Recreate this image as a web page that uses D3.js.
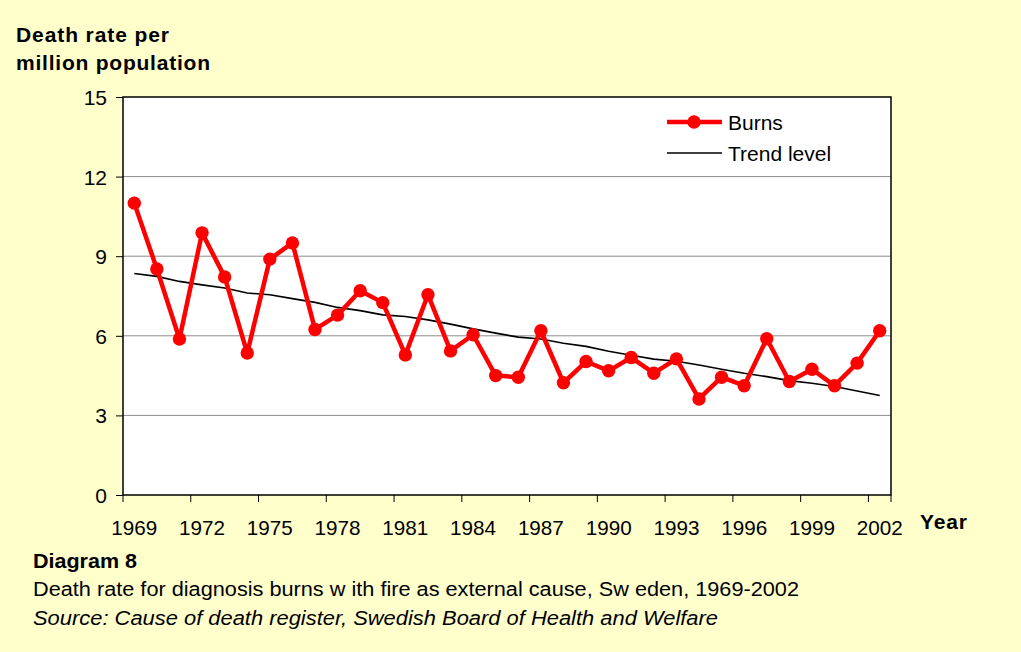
<!DOCTYPE html>
<html>
<head>
<meta charset="utf-8">
<title>Death rate for burns, Sweden 1969-2002</title>
<style>
  body { margin: 0; background: #FFFFCC; }
  text { font-family: "Liberation Sans", Arial, sans-serif; fill: #000; }
</style>
</head>
<body>
<script src="https://cdn.jsdelivr.net/npm/d3@7"></script>
<script>
// data
var years = d3.range(1969, 2003);
var burns = [11.0, 8.52, 5.88, 9.88, 8.22, 5.35, 8.89, 9.5, 6.24, 6.78,
             7.7, 7.25, 5.28, 7.55, 5.43, 6.04, 4.5, 4.44, 6.19, 4.23,
             5.03, 4.68, 5.18, 4.59, 5.13, 3.62, 4.44, 4.12, 5.89, 4.28,
             4.74, 4.12, 4.97, 6.19];
var trend = [8.35, 8.24, 8.05, 7.92, 7.8, 7.61, 7.55, 7.4, 7.26, 7.07,
             6.95, 6.79, 6.73, 6.6, 6.44, 6.26, 6.1, 5.95, 5.88, 5.72,
             5.6, 5.42, 5.27, 5.12, 5.04, 4.9, 4.74, 4.59, 4.46, 4.31,
             4.21, 4.09, 3.92, 3.75];
var yTicks = [0, 3, 6, 9, 12, 15];
var xLabelYears = [1969, 1972, 1975, 1978, 1981, 1984, 1987, 1990, 1993, 1996, 1999, 2002];

var w = 1021, h = 652;
var margin = {top: 97, right: 130, bottom: 157, left: 123};

var svg = d3.select("body").append("svg")
  .attr("width", w)
  .attr("height", h);

svg.append("rect").attr("width", w).attr("height", h).attr("fill", "#FFFFCC");

var x = d3.scaleBand().domain(years).range([margin.left, w - margin.right]);
var y = d3.scaleLinear().domain([0, 15]).range([h - margin.bottom, margin.top]);

// plot area
svg.append("rect")
  .attr("x", margin.left).attr("y", margin.top)
  .attr("width", w - margin.right - margin.left)
  .attr("height", h - margin.bottom - margin.top)
  .attr("fill", "#fff");

// gridlines
svg.append("g").selectAll("line")
  .data(yTicks.filter(function(d) { return d > 0 && d < 15; }))
  .enter().append("line")
  .attr("x1", margin.left).attr("x2", w - margin.right)
  .attr("y1", function(d) { return y(d); })
  .attr("y2", function(d) { return y(d); })
  .attr("stroke", "#8c8c8c").attr("stroke-width", 1);

// border
svg.append("rect")
  .attr("x", margin.left).attr("y", margin.top)
  .attr("width", w - margin.right - margin.left)
  .attr("height", h - margin.bottom - margin.top)
  .attr("fill", "none").attr("stroke", "#000").attr("stroke-width", 1.5);

// Y axis
var yAxis = d3.axisLeft(y).tickValues(yTicks).tickSize(7).tickPadding(9);
var gy = svg.append("g")
  .attr("transform", "translate(" + margin.left + ",0)")
  .call(yAxis);
gy.select(".domain").remove();
gy.selectAll("text")
  .attr("font-family", null).attr("font-size", null)
  .style("font-size", "21px")
  .attr("dy", "0.36em");

// X axis: ticks at every third category boundary, labels under the categories
var xb = svg.append("g").attr("transform", "translate(0," + (h - margin.bottom) + ")");
xb.selectAll("line.tk")
  .data(xLabelYears.concat([2005]))
  .enter().append("line")
  .attr("class", "tk")
  .attr("x1", function(d) { return d <= 2002 ? x(d) : x(2002) + x.bandwidth(); })
  .attr("x2", function(d) { return d <= 2002 ? x(d) : x(2002) + x.bandwidth(); })
  .attr("y1", 0).attr("y2", 7)
  .attr("stroke", "#000");
xb.selectAll("text")
  .data(xLabelYears)
  .enter().append("text")
  .attr("x", function(d) { return x(d) + x.bandwidth() / 2; })
  .attr("y", 40)
  .attr("text-anchor", "middle")
  .style("font-size", "21px")
  .attr("textLength", 46)
  .attr("lengthAdjust", "spacingAndGlyphs")
  .text(function(d) { return d; });

// trend line
var cx = function(d, i) { return x(years[i]) + x.bandwidth() / 2; };
svg.append("path")
  .datum(trend)
  .attr("fill", "none")
  .attr("stroke", "#000")
  .attr("stroke-width", 1.6)
  .attr("d", d3.line().x(cx).y(function(d) { return y(d); }));

// burns series
svg.append("path")
  .datum(burns)
  .attr("fill", "none")
  .attr("stroke", "#FF0000")
  .attr("stroke-width", 4.5)
  .attr("stroke-linejoin", "round")
  .attr("d", d3.line().x(cx).y(function(d) { return y(d); }));
svg.append("g").selectAll("circle")
  .data(burns)
  .enter().append("circle")
  .attr("cx", cx)
  .attr("cy", function(d) { return y(d); })
  .attr("r", 6.7)
  .attr("fill", "#FF0000");

// legend
var lg = svg.append("g").attr("transform", "translate(667,122)");
lg.append("line").attr("x1", 0).attr("x2", 55).attr("y1", 0).attr("y2", 0)
  .attr("stroke", "#FF0000").attr("stroke-width", 4.5);
lg.append("circle").attr("cx", 27).attr("cy", 0).attr("r", 6.7).attr("fill", "#FF0000");
lg.append("text").attr("x", 61).attr("y", 7.5).style("font-size", "21px").text("Burns");
lg.append("line").attr("x1", 0).attr("x2", 55).attr("y1", 31).attr("y2", 31)
  .attr("stroke", "#000").attr("stroke-width", 1.6);
lg.append("text").attr("x", 61).attr("y", 38.5).style("font-size", "21px").text("Trend level");

// axis titles
svg.append("text").attr("x", 16).attr("y", 42)
  .style("font-size", "21px").style("font-weight", "bold")
  .attr("textLength", 153).text("Death rate per");
svg.append("text").attr("x", 16).attr("y", 70)
  .style("font-size", "21px").style("font-weight", "bold")
  .attr("textLength", 194).text("million population");
svg.append("text").attr("x", 920).attr("y", 529)
  .style("font-size", "21px").style("font-weight", "bold")
  .attr("textLength", 47).text("Year");

// caption
svg.append("text").attr("x", 33).attr("y", 568)
  .style("font-size", "20px").style("font-weight", "bold")
  .attr("textLength", 104).attr("lengthAdjust", "spacingAndGlyphs")
  .text("Diagram 8");
svg.append("text").attr("x", 33).attr("y", 596)
  .style("font-size", "20px")
  .attr("textLength", 766).attr("lengthAdjust", "spacingAndGlyphs")
  .text("Death rate for diagnosis burns w ith fire as external cause, Sw eden, 1969-2002");
svg.append("text").attr("x", 33).attr("y", 625)
  .style("font-size", "20px").style("font-style", "italic")
  .attr("textLength", 685).attr("lengthAdjust", "spacingAndGlyphs")
  .text("Source: Cause of death register, Swedish Board of Health and Welfare");
</script>
</body>
</html>
